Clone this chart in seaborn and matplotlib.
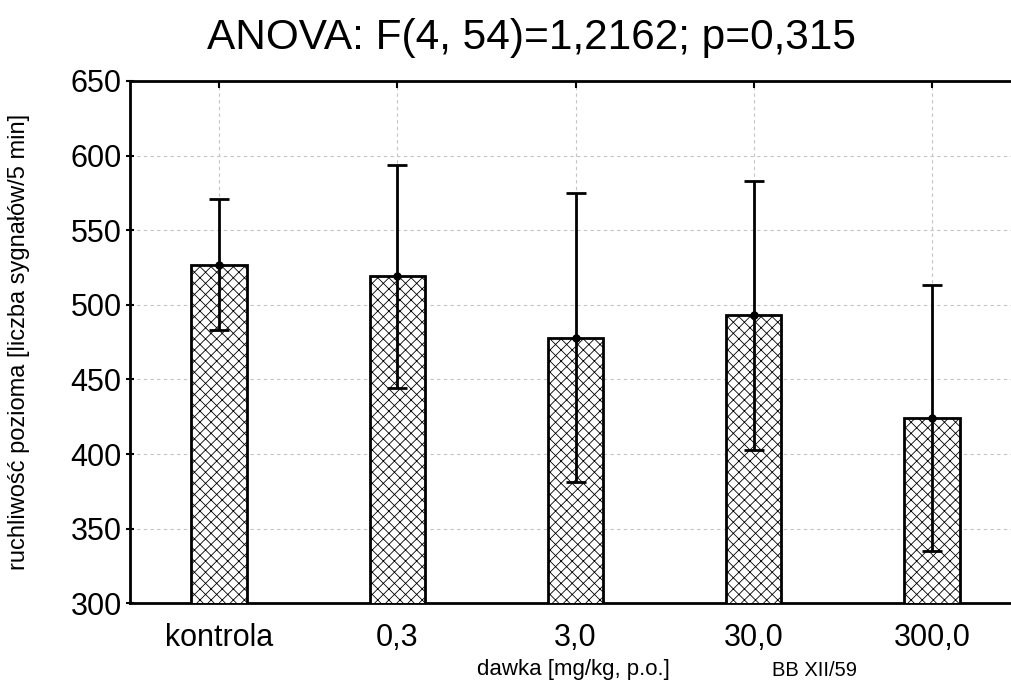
import matplotlib
matplotlib.use("Agg")
import matplotlib.pyplot as plt
import seaborn as sns
import pandas as pd

categories = ["kontrola", "0,3", "3,0", "30,0", "300,0"]
means = [527, 519, 478, 493, 424]
errors = [44, 75, 97, 90, 89]
y_ticks = [300, 350, 400, 450, 500, 550, 600, 650]

title = "ANOVA: F(4, 54)=1,2162; p=0,315"
ylabel = "ruchliwość pozioma [liczba sygnałów/5 min]"
xlabel = "dawka [mg/kg, p.o.]"
note = "BB XII/59"

sns.set_theme(style="white")
plt.rcParams["font.family"] = ["Liberation Sans", "DejaVu Sans"]
plt.rcParams["hatch.linewidth"] = 0.6
plt.rcParams["hatch.color"] = "#222222"
plt.rcParams["text.color"] = "black"
plt.rcParams["xtick.color"] = "black"
plt.rcParams["ytick.color"] = "black"

df = pd.DataFrame({"dawka": categories, "wartosc": means})

fig = plt.figure(figsize=(10.12, 6.97), dpi=100)
ax = fig.add_axes([130 / 1012, (697 - 603.3) / 697, 891 / 1012, (603.3 - 81) / 697])

sns.barplot(data=df, x="dawka", y="wartosc", order=categories, color="white",
            edgecolor="black", linewidth=2, width=0.31, errorbar=None, ax=ax, zorder=3)
for p in ax.patches:
    p.set_hatch("xxx")
    p.set_facecolor("white")
    p.set_edgecolor("black")

ax.errorbar(range(len(categories)), means, yerr=errors, fmt="o", color="black",
            ecolor="black", elinewidth=2, capsize=7.5, capthick=2, markersize=5, zorder=5)

ax.set_xlim(-0.5, 4.5)
ax.set_ylim(300, 650)
ax.set_yticks(y_ticks)
ax.set_yticklabels([str(v) for v in y_ticks], fontsize=22, color="black")
ax.set_xticks(range(len(categories)))
ax.set_xticklabels(categories, fontsize=22, color="black")

ax.grid(True, axis="both", color="#c4c4c4", linestyle=(0, (3, 3)), linewidth=0.8, zorder=0)
ax.set_axisbelow(True)

for s in ["left", "top", "bottom"]:
    ax.spines[s].set_visible(True)
    ax.spines[s].set_color("black")
    ax.spines[s].set_linewidth(2)
ax.spines["right"].set_visible(False)

ax.tick_params(axis="x", which="both", direction="in", top=True, bottom=True,
               length=5, width=1.5, color="black", pad=14)
ax.tick_params(axis="y", direction="inout", left=True, length=6, width=1.5, color="black", pad=3)

ax.set_xlabel("")
ax.set_ylabel("")

fig.text(19 / 1012, 1 - 342 / 697, ylabel, rotation=90, ha="center", va="center", fontsize=17)
fig.text(532 / 1012, 1 - 38 / 697, title, ha="center", va="center", fontsize=30.5)
fig.text(573 / 1012, 1 - 670 / 697, xlabel, ha="center", va="center", fontsize=16)
fig.text(815 / 1012, 1 - 670 / 697, note, ha="center", va="center", fontsize=14.5)

fig.savefig("out.png", dpi=100)
